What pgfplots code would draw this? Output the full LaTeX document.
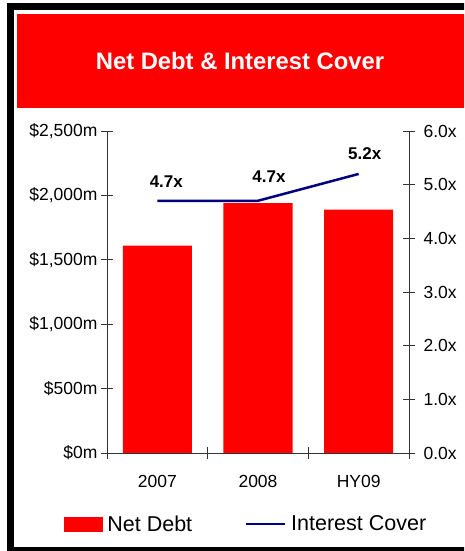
\documentclass[border=0pt]{standalone}
\usepackage{fontspec}
\setmainfont{Liberation Sans}
\usepackage{pgfplots}
\pgfplotsset{compat=1.18}
\usepackage{pgfplotstable}

\definecolor{chartred}{RGB}{255,0,0}
\definecolor{covernavy}{RGB}{0,0,128}

% net debt, $m
\pgfplotstableread{
x debt
0 1610
1 1940
2 1890
}\netdebt

% interest cover, with label offsets (pt)
\pgfplotstableread{
x cover label dx dy
0 4.7 4.7x 9 19
1 4.7 4.7x 11 24
2 5.2 5.2x 6 20
}\cover

\begin{document}
\begin{tikzpicture}
\useasboundingbox (0pt,0pt) rectangle (464pt,551pt);
\clip (0pt,0pt) rectangle (464pt,551pt);
\fill[white] (0pt,0pt) rectangle (464pt,551pt);
\draw[line width=7pt] (10.5pt,0.5pt) rectangle (480pt,544.2pt);
\fill[chartred] (16.5pt,443pt) rectangle (470pt,537pt);
\node[text=white, font=\fontsize{23.8}{24}\selectfont\bfseries] at (240pt,489.6pt) {Net Debt \& Interest Cover};

\pgfplotsset{
  every axis/.append style={
    at={(107pt,98pt)}, anchor=south west,
    scale only axis, width=302pt, height=322pt,
    xmin=-0.5, xmax=2.5,
    axis line style={-, black!80, line width=0.8pt},
    tick style={black!80, line width=0.8pt},
    tick align=center,
    major tick length=12pt,
    tick label style={font=\fontsize{17.5}{17.5}\selectfont},
  },
}

\begin{axis}[
    ymin=0, ymax=2500,
    axis x line*=bottom, axis y line*=left,
    ytick={0,500,1000,1500,2000,2500},
    yticklabels={{\$0m},{\$500m},{\$1,000m},{\$1,500m},{\$2,000m},{\$2,500m}},
    xtick={-0.5,0.5,1.5,2.5},
    xticklabels={},
    extra x ticks={0,1,2},
    extra x tick labels={2007,2008,HY09},
    extra x tick style={tick style={draw=none}, tick label style={yshift=-13pt}},
]
\addplot[ybar, bar width=69pt, fill=chartred, draw=none] table[x=x, y=debt] {\netdebt};
\end{axis}

\begin{axis}[
    ymin=0, ymax=6,
    axis x line=none, axis y line*=right,
    ytick={0,1,2,3,4,5,6},
    yticklabels={0.0x,1.0x,2.0x,3.0x,4.0x,5.0x,6.0x},
    yticklabel style={xshift=5pt},
    legend columns=2,
    legend style={at={(0.4606,-0.2205)}, anchor=center, draw=none, fill=none,
      font=\fontsize{21.5}{21.5}\selectfont,
      /tikz/every odd column/.append style={column sep=3pt},
      /tikz/every even column/.append style={column sep=51pt}},
]
\addlegendimage{legend image code/.code={\fill[chartred] (0pt,-7pt) rectangle (38pt,7pt);}}
\addlegendentry{Net Debt}
\addplot[covernavy, line width=2.5pt,
    legend image code/.code={\draw[covernavy, line width=2pt] (0pt,0pt) -- (39pt,0pt);},
    nodes near coords, point meta=explicit symbolic,
    visualization depends on={\thisrow{dx}\as\dx},
    visualization depends on={\thisrow{dy}\as\dy},
    every node near coord/.append style={text=black, anchor=center,
      font=\fontsize{17}{17}\selectfont\bfseries,
      xshift=\dx pt, yshift=\dy pt},
] table[x=x, y=cover, meta=label] {\cover};
\addlegendentry{Interest Cover}
\end{axis}
\end{tikzpicture}
\end{document}
